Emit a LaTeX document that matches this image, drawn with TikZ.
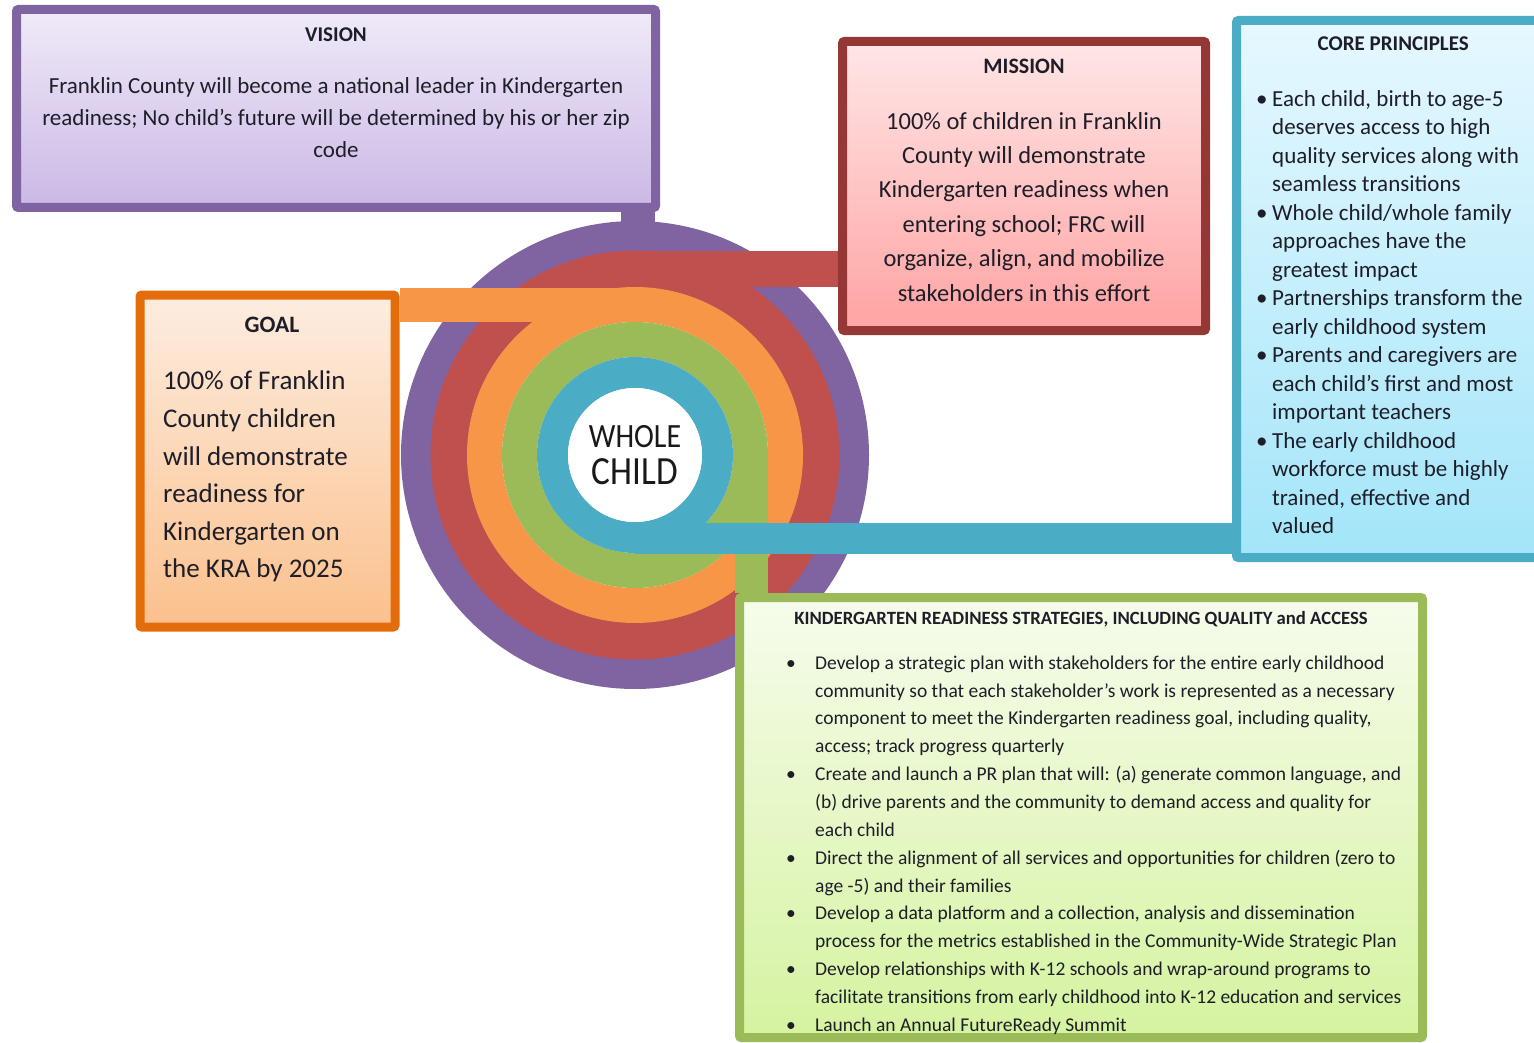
\documentclass[tikz,border=0pt]{standalone}
\usepackage{fontspec}
\setmainfont{Carlito}
\usepackage{graphicx}
\usepackage{tikz}
\usetikzlibrary{calc}
\usetikzlibrary{positioning}
\definecolor{txt}{HTML}{1E1E28}
\definecolor{purplering}{HTML}{8064A2}
\definecolor{redring}{HTML}{C0504D}
\definecolor{orangering}{HTML}{F79646}
\definecolor{greenring}{HTML}{9BBB59}
\definecolor{bluering}{HTML}{4BACC6}
\definecolor{missionedge}{HTML}{953735}
\definecolor{goaledge}{HTML}{E46C0A}
\definecolor{visiontop}{HTML}{F0EAF8}
\definecolor{visionbot}{HTML}{CBB8E6}
\definecolor{missiontop}{HTML}{FFE6E6}
\definecolor{missionbot}{HTML}{FFA3A3}
\definecolor{coretop}{HTML}{E6F8FF}
\definecolor{corebot}{HTML}{A3E5F9}
\definecolor{goaltop}{HTML}{FDEDE0}
\definecolor{goalbot}{HTML}{FBC08C}
\definecolor{kratop}{HTML}{F6FCEC}
\definecolor{krabot}{HTML}{D5F3A0}
\tikzstyle{panel} = [draw, line width=9pt, rounded corners=2pt, inner sep=0pt]
\tikzstyle{paneltitle} = [inner sep=0pt, text=txt]
\tikzstyle{paneltext} = [inner sep=0pt, text=txt, align=center]
\tikzstyle{band} = [line cap=butt]

\begin{document}
\begin{tikzpicture}[x=1pt, y=-1pt]
    \clip (0,0) rectangle (1534,1043);
    \fill[white] (0,0) rectangle (1534,1043);

    % We start with the rings round the whole child
    \coordinate (hub) at (635,455);
    \draw[purplering, line width=31pt] (hub) circle (218.5pt);
    \draw[redring, line width=37pt] (hub) circle (186pt);
    \draw[orangering, line width=35pt] (hub) circle (150.5pt);
    \draw[greenring, line width=35pt] (hub) circle (115.5pt);
    \draw[bluering, line width=31pt] (hub) circle (82.5pt);
    \fill[white] (hub) circle (67pt);
    \node[text=black!90, align=center, font=\fontsize{34}{37}\selectfont] (wholechild) at (hub)
        {\scalebox{0.88}[1]{WHOLE}\\\scalebox{0.88}[1]{\fontsize{40}{37}\selectfont CHILD}};

    % Then the blocks
    \node[panel, draw=purplering, top color=visiontop, bottom color=visionbot,
        minimum width=639pt, minimum height=198pt] (vision) at (336,108.5) {};
    \node[paneltitle, font=\bfseries\fontsize{21}{25}\selectfont, below=22.5pt of vision.north] (visiontitle) {VISION};
    \node[paneltext, font=\fontsize{23}{32}\selectfont, below=36pt of visiontitle] (visiontext)
        {Franklin County will become a national leader in Kindergarten\\
         readiness; No child’s future will be determined by his or her zip\\
         code};

    \node[panel, draw=missionedge, top color=missiontop, bottom color=missionbot,
        minimum width=363pt, minimum height=289pt] (mission) at (1024,186) {};
    \node[paneltitle, font=\bfseries\fontsize{22}{26}\selectfont, below=22pt of mission.north] (missiontitle) {MISSION};
    \node[paneltext, font=\fontsize{24.5}{34.4}\selectfont, below=38pt of missiontitle] (missiontext)
        {100\% of children in Franklin\\
         County will demonstrate\\
         Kindergarten readiness when\\
         entering school; FRC will\\
         organize, align, and mobilize\\
         stakeholders in this effort};

    \node[panel, draw=bluering, top color=coretop, bottom color=corebot,
        minimum width=313.5pt, minimum height=537pt] (core) at (1393.25,289) {};
    \node[paneltitle, font=\bfseries\fontsize{21}{25}\selectfont, below=20.5pt of core.north] (coretitle) {CORE PRINCIPLES};
    \node[paneltext, anchor=north west, font=\fontsize{23}{28.5}\selectfont] (coretext) at (1256,86.3)
        {\begin{tabular}{@{}p{16pt}@{}l@{}}
         \textbullet & Each child, birth to age-5\\
         & deserves access to high\\
         & quality services along with\\
         & seamless transitions\\
         \textbullet & Whole child/whole family\\
         & approaches have the\\
         & greatest impact\\
         \textbullet & Partnerships transform the\\
         & early childhood system\\
         \textbullet & Parents and caregivers are\\
         & each child’s first and most\\
         & important teachers\\
         \textbullet & The early childhood\\
         & workforce must be highly\\
         & trained, effective and\\
         & valued
         \end{tabular}};

    \node[panel, draw=goaledge, top color=goaltop, bottom color=goalbot,
        minimum width=255pt, minimum height=332pt] (goal) at (267.5,461) {};
    \node[paneltitle, font=\bfseries\fontsize{23.5}{28}\selectfont, below=26pt of goal.north, xshift=4.5pt] (goaltitle) {GOAL};
    \node[paneltext, align=left, anchor=north west, font=\fontsize{27}{37.6}\selectfont] (goaltext) at (163,371)
        {100\% of Franklin\\
         County children\\
         will demonstrate\\
         readiness for\\
         Kindergarten on\\
         the KRA by 2025};

    \node[panel, draw=greenring, top color=kratop, bottom color=krabot,
        minimum width=683pt, minimum height=440pt] (kra) at (1081,817.5) {};
    \node[paneltitle, font=\bfseries\fontsize{18.7}{22}\selectfont, below=18.5pt of kra.north] (kratitle)
        {KINDERGARTEN READINESS STRATEGIES, INCLUDING QUALITY and ACCESS};
    \node[paneltext, anchor=north west, font=\fontsize{19.5}{27.85}\selectfont] (kratext) at (786,649.5)
        {\begin{tabular}{@{}p{29pt}@{}l@{}}
         \textbullet & Develop a strategic plan with stakeholders for the entire early childhood\\
         & community so that each stakeholder’s work is represented as a necessary\\
         & component to meet the Kindergarten readiness goal, including quality,\\
         & access; track progress quarterly\\
         \textbullet & Create and launch a PR plan that will: (a) generate common language, and\\
         & (b) drive parents and the community to demand access and quality for\\
         & each child\\
         \textbullet & Direct the alignment of all services and opportunities for children (zero to\\
         & age -5) and their families\\
         \textbullet & Develop a data platform and a collection, analysis and dissemination\\
         & process for the metrics established in the Community-Wide Strategic Plan\\
         \textbullet & Develop relationships with K-12 schools and wrap-around programs to\\
         & facilitate transitions from early childhood into K-12 education and services\\
         \textbullet & Launch an Annual FutureReady Summit
         \end{tabular}};

    % Bands from each ring out to its block
    \coordinate (purpletop) at ($(hub)+(3,-218.5)$);
    \coordinate (redtop) at ($(hub)+(0,-186)$);
    \coordinate (orangetop) at ($(hub)+(0,-150.5)$);
    \coordinate (greenside) at ($(hub)+(116.5,0)$);
    \coordinate (bluebottom) at ($(hub)+(0,83.5)$);
    \draw[band, purplering, line width=34pt] (purpletop) -- (purpletop |- vision.south);
    \draw[band, redring, line width=36pt] (redtop) -- (redtop -| mission.west);
    \draw[band, orangering, line width=34pt] (orangetop) -- (orangetop -| goal.east);
    \draw[band, greenring, line width=33pt] (greenside) -- (greenside |- kra.north);
    \draw[band, bluering, line width=31pt] (bluebottom) -- (bluebottom -| core.west);
\end{tikzpicture}
\end{document}
